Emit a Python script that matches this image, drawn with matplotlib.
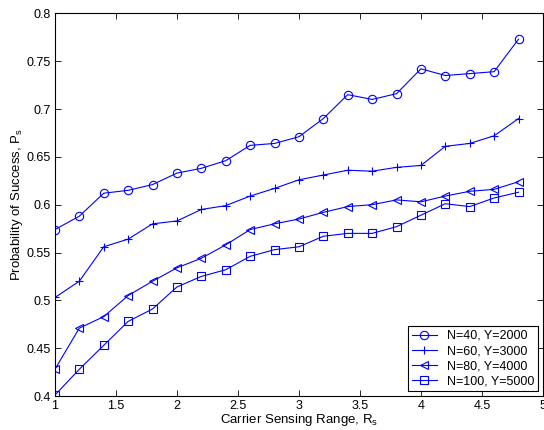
import matplotlib
matplotlib.use("Agg")
import matplotlib.pyplot as plt

plt.rcParams['font.family'] = ['Liberation Sans', 'DejaVu Sans']
plt.rcParams['mathtext.fontset'] = 'custom'
plt.rcParams['mathtext.rm'] = 'Liberation Sans'

rs = [1.0, 1.2, 1.4, 1.6, 1.8, 2.0, 2.2, 2.4, 2.6, 2.8,
      3.0, 3.2, 3.4, 3.6, 3.8, 4.0, 4.2, 4.4, 4.6, 4.8]

p_n40 = [0.574, 0.588, 0.612, 0.615, 0.621, 0.633, 0.638, 0.646, 0.662, 0.664,
         0.671, 0.690, 0.715, 0.710, 0.716, 0.742, 0.735, 0.737, 0.739, 0.773]
p_n60 = [0.503, 0.520, 0.556, 0.564, 0.580, 0.583, 0.595, 0.599, 0.609, 0.617,
         0.626, 0.631, 0.636, 0.635, 0.639, 0.641, 0.661, 0.664, 0.672, 0.690]
p_n80 = [0.428, 0.471, 0.483, 0.505, 0.520, 0.534, 0.544, 0.558, 0.574, 0.580,
         0.585, 0.592, 0.598, 0.600, 0.605, 0.603, 0.609, 0.614, 0.616, 0.624]
p_n100 = [0.401, 0.428, 0.453, 0.478, 0.491, 0.514, 0.525, 0.532, 0.546, 0.553,
          0.556, 0.567, 0.570, 0.570, 0.577, 0.589, 0.601, 0.598, 0.607, 0.613]

labels = ["N=40, Y=2000", "N=60, Y=3000", "N=80, Y=4000", "N=100, Y=5000"]
markers = ["o", "+", "<", "s"]

fig = plt.figure(figsize=(5.44, 4.30), dpi=100)
ax = fig.add_axes([0.101, 0.079, 0.897, 0.890])

for ys, lab, mk in zip([p_n40, p_n60, p_n80, p_n100], labels, markers):
    ms = 6 if mk in ("o", "+") else 5.5
    ax.plot(rs, ys, color="#0000ff", lw=0.8, marker=mk, ms=ms,
            mfc="none", mec="#0000ff", mew=0.8, label=lab)

ax.set_xlim(1, 5)
ax.set_ylim(0.4, 0.8)
ax.set_xticks([1, 1.5, 2, 2.5, 3, 3.5, 4, 4.5, 5])
ax.set_xticklabels(["1", "1.5", "2", "2.5", "3", "3.5", "4", "4.5", "5"])
ax.set_yticks([0.4, 0.45, 0.5, 0.55, 0.6, 0.65, 0.7, 0.75, 0.8])
ax.set_yticklabels(["0.4", "0.45", "0.5", "0.55", "0.6", "0.65", "0.7", "0.75", "0.8"])
ax.tick_params(direction="in", top=True, right=True, labelsize=9, length=4, width=0.6, pad=3)
for sp in ax.spines.values():
    sp.set_linewidth(0.8)

ax.set_xlabel("Carrier Sensing Range, R$_\\mathregular{s}$", fontsize=9.5, labelpad=0)
ax.set_ylabel("Probability of Success, P$_\\mathregular{s}$", fontsize=9.5, labelpad=1)

leg = ax.legend(loc="lower right", fontsize=9, frameon=True, fancybox=False,
                edgecolor="black", framealpha=1, borderpad=0.3, labelspacing=0.25,
                handlelength=2.0, borderaxespad=0.4)
leg.get_frame().set_linewidth(0.8)

plt.savefig("out.png", dpi=100)
